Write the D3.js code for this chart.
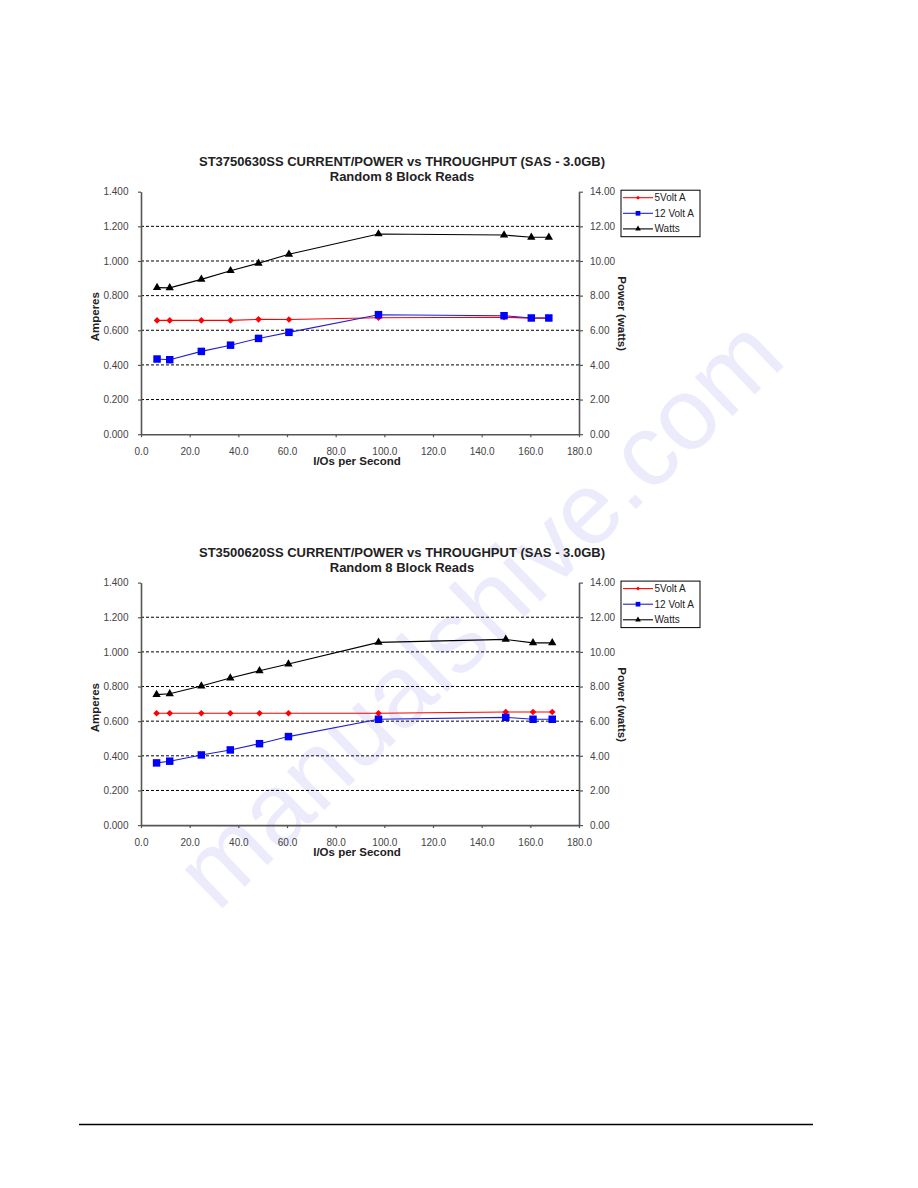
<!DOCTYPE html>
<html>
<head>
<meta charset="utf-8">
<title>Current/Power vs Throughput</title>
<style>
  body { margin: 0; background: #fff; }
  svg { display: block; font-family: "Liberation Sans", Arial, sans-serif; }
</style>
</head>
<body>
<script src="https://cdn.jsdelivr.net/npm/d3@7/dist/d3.min.js"></script>
<script>

    // tick values
    var ioTicks = [0, 20, 40, 60, 80, 100, 120, 140, 160, 180];
    var ampTicks = [0, 0.2, 0.4, 0.6, 0.8, 1.0, 1.2, 1.4];
    var wattTicks = [0, 2, 4, 6, 8, 10, 12, 14];
    var seriesNames = ["5Volt A", "12 Volt A", "Watts"];

    // ST3750630SS
    var title1 = "ST3750630SS CURRENT/POWER vs THROUGHPUT (SAS - 3.0GB)";
    var io1 = [6.6, 11.8, 24.8, 36.8, 48.3, 60.8, 97.6, 149.2, 160.4, 167.6];
    var volt5a1 = [0.657, 0.657, 0.657, 0.657, 0.663, 0.662, 0.672, 0.675, 0.670, 0.670];
    var volt12a1 = [0.434, 0.430, 0.478, 0.514, 0.553, 0.588, 0.690, 0.684, 0.671, 0.671];
    var watts1 = [8.46, 8.45, 8.94, 9.44, 9.87, 10.39, 11.56, 11.50, 11.37, 11.37];

    // ST3500620SS
    var title2 = "ST3500620SS CURRENT/POWER vs THROUGHPUT (SAS - 3.0GB)";
    var io2 = [6.4, 11.8, 24.8, 36.7, 48.7, 60.6, 97.6, 149.9, 161.1, 169.0];
    var volt5a2 = [0.646, 0.646, 0.646, 0.646, 0.646, 0.646, 0.646, 0.653, 0.653, 0.653];
    var volt12a2 = [0.359, 0.369, 0.405, 0.434, 0.470, 0.511, 0.611, 0.622, 0.611, 0.611];
    var watts2 = [7.53, 7.58, 8.03, 8.49, 8.91, 9.30, 10.55, 10.72, 10.52, 10.52];

    var subtitle = "Random 8 Block Reads";

    var width = 918, height = 1188;
    var plotLeft = 141, plotRight = 579, plotH = 242.5;

    var svg = d3.select("body").append("svg")
        .attr("width", width)
        .attr("height", height);

    // faint watermark behind everything
    svg.append("text")
        .attr("transform", "translate(478,612) rotate(-44)")
        .attr("text-anchor", "middle")
        .attr("dy", "0.35em")
        .attr("font-size", "102px")
        .attr("fill", "#ebebfb")
        .text("manualshive.com");

    var colors = ["#ff0000", "#0000ff", "#000000"];
    var lineColors = ["#ff0000", "#2020d0", "#000000"];
    var symbols = [d3.symbolSquare, d3.symbolSquare, d3.symbolTriangle];
    var symSizes = [22, 56, 30];
    var legSizes = [8, 22, 14];

    function marker(sel, i, size) {
        sel.attr("d", d3.symbol().type(symbols[i]).size(size))
            .attr("fill", colors[i]);
    }

    function drawChart(top, title, io, a5, a12, w) {
        var g = svg.append("g").attr("transform", "translate(0," + top + ")");

        var x = d3.scaleLinear().domain([0, 180]).range([plotLeft, plotRight]);
        var y = d3.scaleLinear().domain([0, 1.4]).range([plotH, 0]);
        var y2 = d3.scaleLinear().domain([0, 14]).range([plotH, 0]);

        // titles
        g.append("text")
            .attr("x", 402).attr("y", -25.5)
            .attr("text-anchor", "middle")
            .attr("font-size", "13px").attr("font-weight", "bold")
            .attr("fill", "#222")
            .text(title);
        g.append("text")
            .attr("x", 402).attr("y", -10.5)
            .attr("text-anchor", "middle")
            .attr("font-size", "13px").attr("font-weight", "bold")
            .attr("fill", "#222")
            .text(subtitle);

        // dashed grid
        g.selectAll(".grid")
            .data(ampTicks.filter(function(t) { return t > 0 && t < 1.4; }))
            .enter().append("line")
            .attr("class", "grid")
            .attr("x1", x(0)).attr("x2", x(180))
            .attr("y1", function(d) { return y(d); })
            .attr("y2", function(d) { return y(d); })
            .attr("stroke", "#000")
            .attr("stroke-width", 1)
            .attr("stroke-dasharray", "3,2");

        var xAxis = d3.axisBottom(x).tickValues(ioTicks)
            .tickFormat(d3.format(".1f")).tickSize(3).tickSizeOuter(0).tickPadding(10.5);
        var yAxis = d3.axisLeft(y).tickValues(ampTicks)
            .tickFormat(d3.format(".3f")).tickSize(3).tickSizeOuter(0).tickPadding(9.5);
        var y2Axis = d3.axisRight(y2).tickValues(wattTicks)
            .tickFormat(d3.format(".2f")).tickSize(4).tickSizeOuter(0).tickPadding(7);

        var axes = [
            g.append("g").attr("transform", "translate(0," + plotH + ")").call(xAxis),
            g.append("g").attr("transform", "translate(" + plotLeft + ",0)").call(yAxis),
            g.append("g").attr("transform", "translate(" + plotRight + ",0)").call(y2Axis)
        ];
        axes.forEach(function(a) {
            a.attr("font-family", null).attr("font-size", null);
            a.select(".domain").attr("stroke", "#555").attr("stroke-width", 1.6);
            a.selectAll(".tick line").attr("stroke", "#555").attr("stroke-width", 1.2);
            a.selectAll(".tick text").attr("font-size", "10px").attr("fill", "#444");
        });

        // axis titles
        g.append("text")
            .attr("transform", "translate(98.5," + 125 + ") rotate(-90)")
            .attr("text-anchor", "middle")
            .attr("font-size", "11.5px").attr("font-weight", "bold")
            .attr("fill", "#222")
            .text("Amperes");
        g.append("text")
            .attr("transform", "translate(617.5," + 122 + ") rotate(90)")
            .attr("text-anchor", "middle")
            .attr("font-size", "11.5px").attr("font-weight", "bold")
            .attr("fill", "#222")
            .text("Power (watts)");
        g.append("text")
            .attr("x", 357).attr("y", plotH + 30.5)
            .attr("text-anchor", "middle")
            .attr("font-size", "11.5px").attr("font-weight", "bold")
            .attr("fill", "#222")
            .text("I/Os per Second");

        // series
        var series = [
            io.map(function(d, i) { return [x(d), y(a5[i])]; }),
            io.map(function(d, i) { return [x(d), y(a12[i])]; }),
            io.map(function(d, i) { return [x(d), y2(w[i])]; })
        ];

        var line = d3.line();
        series.forEach(function(pts, i) {
            g.append("path")
                .attr("d", line(pts))
                .attr("fill", "none")
                .attr("stroke", lineColors[i])
                .attr("stroke-width", 1.1);
            g.selectAll(".m" + i)
                .data(pts)
                .enter().append("path")
                .attr("class", "m" + i)
                .attr("transform", function(d) {
                    return "translate(" + d[0] + "," + d[1] + ")" + (i === 0 ? " rotate(45)" : "");
                })
                .call(marker, i, symSizes[i]);
        });

        // legend
        var legend = g.append("g").attr("transform", "translate(621,-1.5)");
        legend.append("rect")
            .attr("width", 79).attr("height", 46.5)
            .attr("fill", "#fff")
            .attr("stroke", "#000").attr("stroke-width", 1);

        seriesNames.forEach(function(name, i) {
            var row = legend.append("g")
                .attr("transform", "translate(0," + (7.5 + i * 15.6) + ")");
            row.append("line")
                .attr("x1", 2).attr("x2", 32)
                .attr("stroke", lineColors[i]).attr("stroke-width", 1.1);
            row.append("path")
                .attr("transform", "translate(17,0)" + (i === 0 ? " rotate(45)" : ""))
                .call(marker, i, legSizes[i]);
            row.append("text")
                .attr("x", 33.5).attr("y", 3.5)
                .attr("font-size", "10px")
                .attr("fill", "#222")
                .text(name);
        });
    }

    drawChart(191.7, title1, io1, volt5a1, volt12a1, watts1);
    drawChart(582.6, title2, io2, volt5a2, volt12a2, watts2);

    // footer rule
    svg.append("line")
        .attr("x1", 79).attr("x2", 813)
        .attr("y1", 1124.5).attr("y2", 1124.5)
        .attr("stroke", "#000").attr("stroke-width", 1.5);

</script>
</body>
</html>
